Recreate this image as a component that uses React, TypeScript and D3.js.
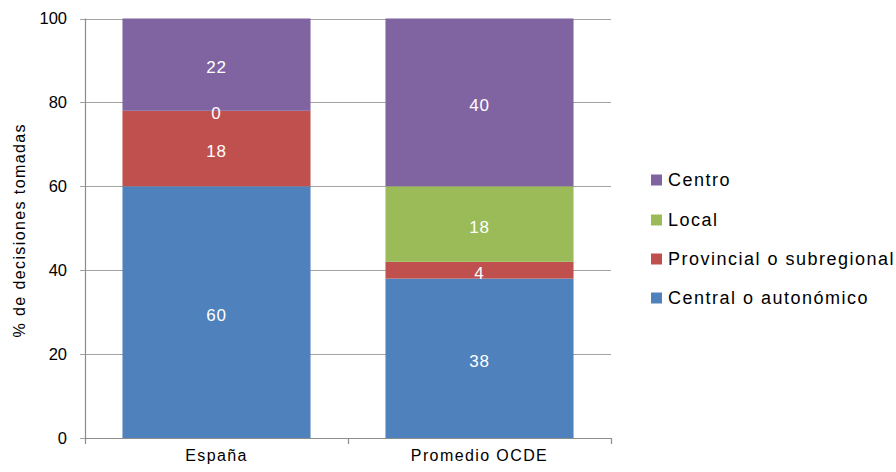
import React from "react";
import * as d3 from "d3";

const categories = ["España", "Promedio OCDE"];
const seriesNames = ["Central o autonómico", "Provincial o subregional", "Local", "Centro"];
const centralValues = [60, 38];
const provincialValues = [18, 4];
const localValues = [0, 18];
const centroValues = [22, 40];
const seriesColors = ["#4F81BD", "#C0504D", "#9BBB59", "#8064A2"];
const yTicks = [0, 20, 40, 60, 80, 100];
const yTitle = "% de decisiones tomadas";

const W = 896, H = 472;
const left = 85, right = 611, top = 18.5, bottom = 438;

export default function App() {
  const allSeries = [centralValues, provincialValues, localValues, centroValues];
  const rows = categories.map((c, i) => {
    const r: any = { cat: c };
    seriesNames.forEach((s, j) => (r[s] = allSeries[j][i]));
    return r;
  });
  const stack = d3.stack().keys(seriesNames)(rows as any);
  const x = d3.scaleBand().domain(categories).range([left, right]).paddingInner(0.285).paddingOuter(0.1425);
  const y = d3.scaleLinear().domain([0, 100]).range([bottom, top]);
  const font = "'Liberation Sans', Arial, sans-serif";
  const legendOrder = [3, 2, 1, 0];
  const legendY = [180, 220, 259, 298];

  return (
    <svg width={W} height={H} style={{ position: "absolute", left: 0, top: 0, fontFamily: font }}>
      <rect width={W} height={H} fill="#fff" />
      {yTicks.map((t) => (
        <g key={t}>
          <line x1={left - 5} x2={right} y1={Math.round(y(t)) + 0.5} y2={Math.round(y(t)) + 0.5} stroke="#a3a3a3" strokeWidth={1.2} />
          <text x={67} y={y(t)} dy="0.35em" textAnchor="end" fontSize={16.5} fill="#000">{t}</text>
        </g>
      ))}
      {stack.map((layer, j) => (
        <g key={j}>
          {layer.map((d, i) => (
            <rect key={i} x={x(categories[i])} width={x.bandwidth()} y={y(d[1])} height={y(d[0]) - y(d[1])} fill={seriesColors[j]} />
          ))}
        </g>
      ))}
      {stack.map((layer, j) => (
        <g key={"l" + j}>
          {layer.map((d, i) => (
            <text key={i} x={x(categories[i])! + x.bandwidth() / 2} y={(y(d[0]) + y(d[1])) / 2 + 2.5} dy="0.35em" textAnchor="middle" fontSize={17} letterSpacing={0.8} fill="#fff">
              {d[1] - d[0]}
            </text>
          ))}
        </g>
      ))}
      <line x1={left + 0.5} x2={left + 0.5} y1={top} y2={bottom} stroke="#8c8c8c" strokeWidth={1.2} />
      <line x1={left} x2={right} y1={bottom + 0.5} y2={bottom + 0.5} stroke="#8c8c8c" strokeWidth={1.2} />
      {[left, (left + right) / 2, right].map((v, i) => (
        <line key={i} x1={Math.round(v) + 0.5} x2={Math.round(v) + 0.5} y1={bottom} y2={bottom + 6} stroke="#8c8c8c" strokeWidth={1.2} />
      ))}
      {categories.map((c) => (
        <text key={c} x={x(c)! + x.bandwidth() / 2} y={461} textAnchor="middle" fontSize={16} letterSpacing={1.4} fill="#000">{c}</text>
      ))}
      <text transform={`translate(25,${(top + bottom) / 2 + 2}) rotate(-90)`} textAnchor="middle" fontSize={16} letterSpacing={1.4} fill="#000">{yTitle}</text>
      {legendOrder.map((j, k) => (
        <g key={j}>
          <rect x={651} y={legendY[k] - 5.5} width={11} height={11} fill={seriesColors[j]} />
          <text x={668} y={legendY[k]} dy="0.35em" fontSize={18} letterSpacing={1.5} fill="#000">{seriesNames[j]}</text>
        </g>
      ))}
    </svg>
  );
}
